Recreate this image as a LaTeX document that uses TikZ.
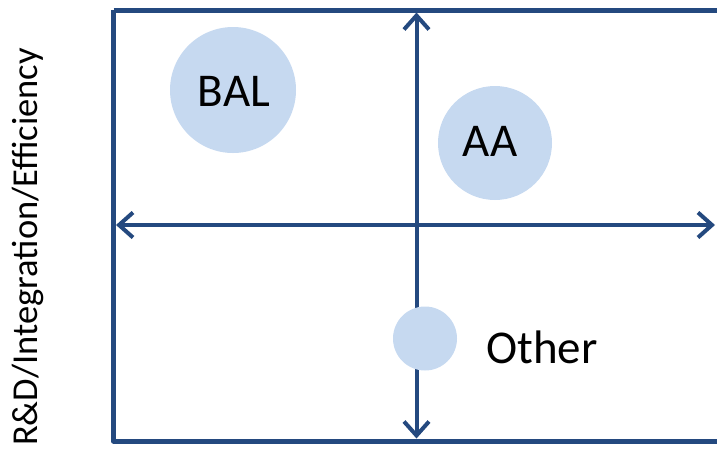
\documentclass[tikz,border=0pt]{standalone}
\usepackage{fontspec}
\setmainfont{Carlito}
\usetikzlibrary{arrows.meta}
\definecolor{axisblue}{HTML}{24497F}
\definecolor{bubble}{HTML}{C6D9F0}
\tikzset{
  frame/.style={draw=axisblue, line width=5pt, line join=round},
  axis/.style={draw=axisblue, line width=4pt, {Straight Barb[length=14pt,width=25pt]}-{Straight Barb[length=14pt,width=25pt]}},
  bub/.style={circle, fill=bubble, draw=none, inner sep=0pt},
  lbl/.style={font=\fontsize{47}{52}\selectfont, text=black}
}
\begin{document}
\begin{tikzpicture}[x=1pt,y=-1pt]
\useasboundingbox (0,0) rectangle (717,451);
\clip (0,0) rectangle (717,451);
\path[frame] (113.5,10) -- (113.5,441) -- (760,441) (113.5,10) -- (760,10);
\coordinate (vt) at (416.5,12.5);
\coordinate (vb) at (416.5,438.5);
\coordinate (hl) at (116,225);
\coordinate (hr) at (715,225);
\draw[axis] (vt) -- (vb);
\draw[axis] (hl) -- (hr);
\node[bub, minimum size=126pt] (bal) at (233,90) {};
\node[bub, minimum size=114pt] (aa) at (495,143) {};
\node[bub, minimum size=64pt] (oth) at (425,338.5) {};
\node[lbl, anchor=base] (baltext) at (234,106) {BAL};
\node[lbl, anchor=base] (aatext) at (490,156) {AA};
\node[lbl, anchor=base west, inner sep=0pt] (othtext) at (486,363) {Other};
\node[font=\fontsize{36.5}{40}\selectfont, rotate=90, anchor=base, inner sep=0pt] (ylab) at (37,247) {R\&D/Integration/Efficiency};
\end{tikzpicture}
\end{document}
